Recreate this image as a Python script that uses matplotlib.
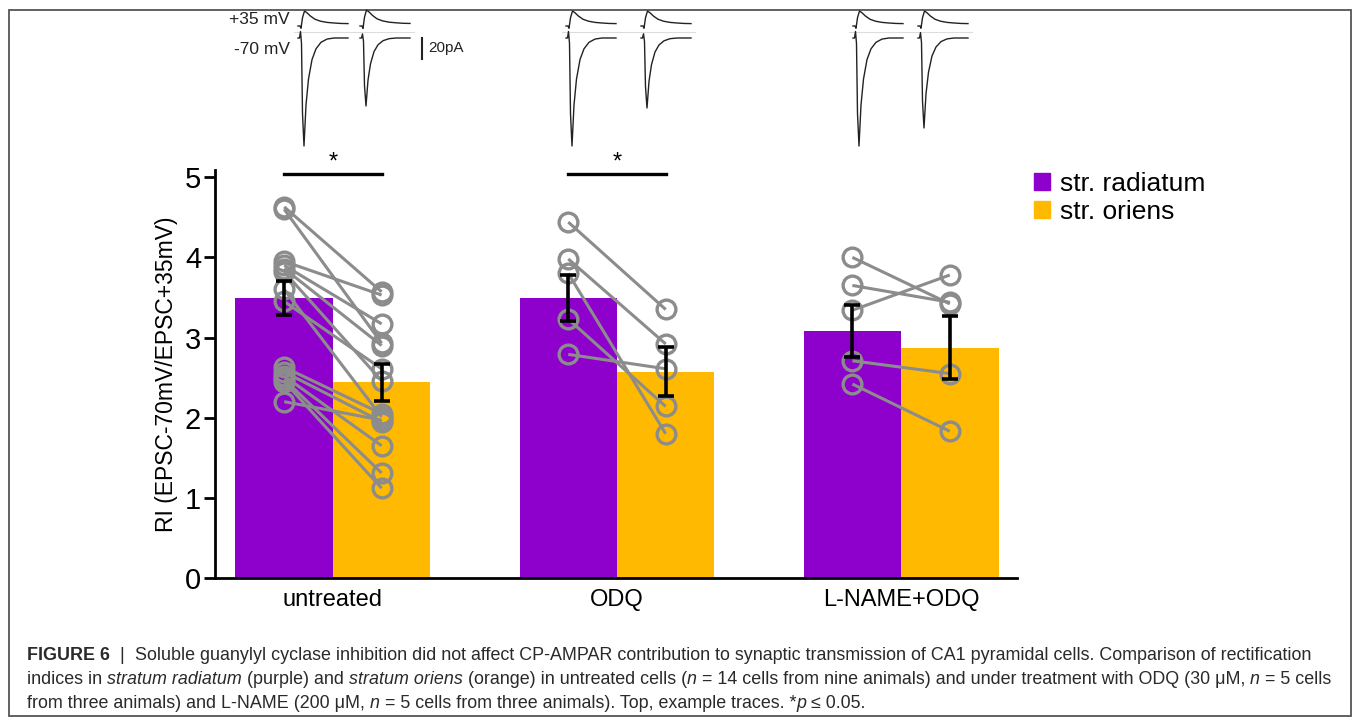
import matplotlib
matplotlib.use('Agg')
import matplotlib.pyplot as plt
from matplotlib.patches import Patch, Rectangle
import numpy as np

plt.rcParams['font.family'] = ['Liberation Sans', 'DejaVu Sans']

groups = ['untreated', 'ODQ', 'L-NAME+ODQ']
rad_mean = [3.49, 3.49, 3.08]
rad_sem = [0.215, 0.285, 0.325]
ori_mean = [2.44, 2.575, 2.875]
ori_sem = [0.23, 0.305, 0.395]

# paired cells (radiatum -> oriens)
untreated_rad = [4.63, 4.60, 3.95, 3.90, 3.86, 3.82, 3.60, 3.45, 2.63, 2.57, 2.52, 2.48, 2.45, 2.20]
untreated_ori = [3.57, 2.93, 3.53, 3.17, 2.90, 2.46, 2.01, 2.61, 2.05, 1.95, 1.65, 1.31, 1.12, 1.97]
odq_rad = [4.44, 3.98, 3.80, 3.23, 2.79]
odq_ori = [3.35, 2.92, 1.80, 2.14, 2.61]
lname_rad = [4.00, 3.65, 3.34, 2.71, 2.42]
lname_ori = [3.42, 3.44, 3.78, 2.55, 1.83]
pairs = [(untreated_rad, untreated_ori), (odq_rad, odq_ori), (lname_rad, lname_ori)]

sig_groups = [0, 1]

# example trace shapes (normalised)
t_out = [0, 0.04, 0.06, 0.09, 0.13, 0.18, 0.25, 0.34, 0.45, 0.58, 0.72, 0.86, 1.0]
a_out = [0, 0, -0.15, 0.55, 1.0, 0.88, 0.66, 0.45, 0.32, 0.24, 0.2, 0.17, 0.16]
t_in = [0, 0.03, 0.05, 0.07, 0.09, 0.12, 0.16, 0.21, 0.28, 0.36, 0.46, 0.58, 0.72, 1.0]
a_in = [0, 0, 0.06, -0.05, -0.7, -1.0, -0.62, -0.38, -0.2, -0.1, -0.04, -0.01, 0, 0]
# peak sizes (px) of the +35 / -70 traces for each group, cells A and B
amp_out = [[15, 16], [15, 15], [15, 15]]
amp_in = [[108, 68], [108, 70], [108, 90]]

purple = '#8E00CC'
orange = '#FFB900'
grey = '#8C8C8C'

fig = plt.figure(figsize=(13.55, 7.24), dpi=100)

# main bar chart
W, H = 1355, 724
left, right, bottom, top = 215, 1017, 578, 170
ax = fig.add_axes([left / W, 1 - bottom / H, (right - left) / W, (bottom - top) / H])
x = np.arange(len(groups))
bw = 0.343
ax.bar(x - bw / 2, rad_mean, bw, color=purple, zorder=1)
ax.bar(x + bw / 2, ori_mean, bw, color=orange, zorder=1)

for i, (r, o) in enumerate(pairs):
    for a, b in zip(r, o):
        ax.plot([i - bw / 2, i + bw / 2], [a, b], color=grey, lw=2.2, zorder=3,
                solid_capstyle='butt')
    ax.plot([i - bw / 2] * len(r), r, 'o', mfc='none', mec=grey, ms=13.5, mew=2.4, zorder=4)
    ax.plot([i + bw / 2] * len(o), o, 'o', mfc='none', mec=grey, ms=13.5, mew=2.4, zorder=4)

ax.errorbar(x - bw / 2, rad_mean, yerr=rad_sem, fmt='none', ecolor='black',
            elinewidth=2.6, capsize=6, capthick=2.6, zorder=5)
ax.errorbar(x + bw / 2, ori_mean, yerr=ori_sem, fmt='none', ecolor='black',
            elinewidth=2.6, capsize=6, capthick=2.6, zorder=5)

for g in sig_groups:
    ax.plot([g - bw / 2, g + bw / 2], [5.04, 5.04], color='black', lw=2.4,
            clip_on=False, zorder=5)
    ax.text(g, 5.04, '*', ha='center', va='bottom', fontsize=17, clip_on=False)

ax.set_xlim(-0.415, 2.408)
ax.set_ylim(0, 5.09)
ax.set_yticks([0, 1, 2, 3, 4, 5])
ax.set_xticks(x)
ax.set_xticklabels(groups, fontsize=17)
ax.tick_params(axis='y', labelsize=21, length=8, width=2, pad=2)
ax.tick_params(axis='x', length=0, pad=8)
for s in ['top', 'right']:
    ax.spines[s].set_visible(False)
for s in ['left', 'bottom']:
    ax.spines[s].set_linewidth(2)
ax.set_ylabel('RI (EPSC-70mV/EPSC+35mV)', fontsize=16.5, labelpad=5)

handles = [Patch(color=purple), Patch(color=orange)]
fig.legend(handles, ['str. radiatum', 'str. oriens'], loc='upper left',
           bbox_to_anchor=(1034 / W, 1 - 172 / H), frameon=False, fontsize=19,
           handlelength=0.6, handleheight=0.6, handletextpad=0.4,
           labelspacing=0.15, borderpad=0, borderaxespad=0)

# overlay in pixel units: frame, traces, caption
ov = fig.add_axes([0, 0, 1, 1], zorder=-1)
ov.set_xlim(0, W)
ov.set_ylim(H, 0)
ov.axis('off')
ov.add_patch(Rectangle((9, 10), 1342, 706, fill=False, ec='#555555', lw=1.3))

trace_x = [[298, 360], [566, 641], [853, 918]]
tw = 50
for gi, (xa, xb) in enumerate(trace_x):
    ov.plot([xa - 4, xb + tw + 4], [32, 32], color='#DDDDDD', lw=0.8)
    for j, x0 in enumerate([xa, xb]):
        ov.plot([x0 + t * tw for t in t_out], [26 - a * amp_out[gi][j] for a in a_out],
                color='#222222', lw=1.0)
        ov.plot([x0 + t * tw for t in t_in], [38 - a * amp_in[gi][j] for a in a_in],
                color='#222222', lw=1.0)
ov.text(290, 20, '+35 mV', ha='right', va='center', fontsize=12.5, color='#222222')
ov.text(290, 49, '-70 mV', ha='right', va='center', fontsize=12.5, color='#222222')
ov.plot([422, 422], [38, 59], color='#222222', lw=1.5)
ov.text(428, 48, '20pA', ha='left', va='center', fontsize=11, color='#222222')

renderer = fig.canvas.get_renderer()
cap_lines = [
    [('FIGURE 6', 'bold'), ('  |  ', 'normal'),
     ('Soluble guanylyl cyclase inhibition did not affect CP-AMPAR contribution to synaptic '
      'transmission of CA1 pyramidal cells. Comparison of rectification', 'normal')],
    [('indices in ', 'normal'), ('stratum radiatum', 'italic'), (' (purple) and ', 'normal'),
     ('stratum oriens', 'italic'), (' (orange) in untreated cells (', 'normal'), ('n', 'italic'),
     (' = 14 cells from nine animals) and under treatment with ODQ (30 \u03bcM, ', 'normal'),
     ('n', 'italic'), (' = 5 cells', 'normal')],
    [('from three animals) and L-NAME (200 \u03bcM, ', 'normal'), ('n', 'italic'),
     (' = 5 cells from three animals). Top, example traces. *', 'normal'), ('p', 'italic'),
     (' \u2264 0.05.', 'normal')],
]
cap_y = [656, 680, 703]
for segs, yy in zip(cap_lines, cap_y):
    xx = 27
    for txt, st in segs:
        kw = dict(fontsize=12.9, color='#2a2a2a', va='center', ha='left')
        if st == 'bold':
            kw['fontweight'] = 'bold'
        elif st == 'italic':
            kw['fontstyle'] = 'italic'
        t = ov.text(xx, yy, txt, **kw)
        xx += t.get_window_extent(renderer).width

fig.savefig('out.png', dpi=100)
